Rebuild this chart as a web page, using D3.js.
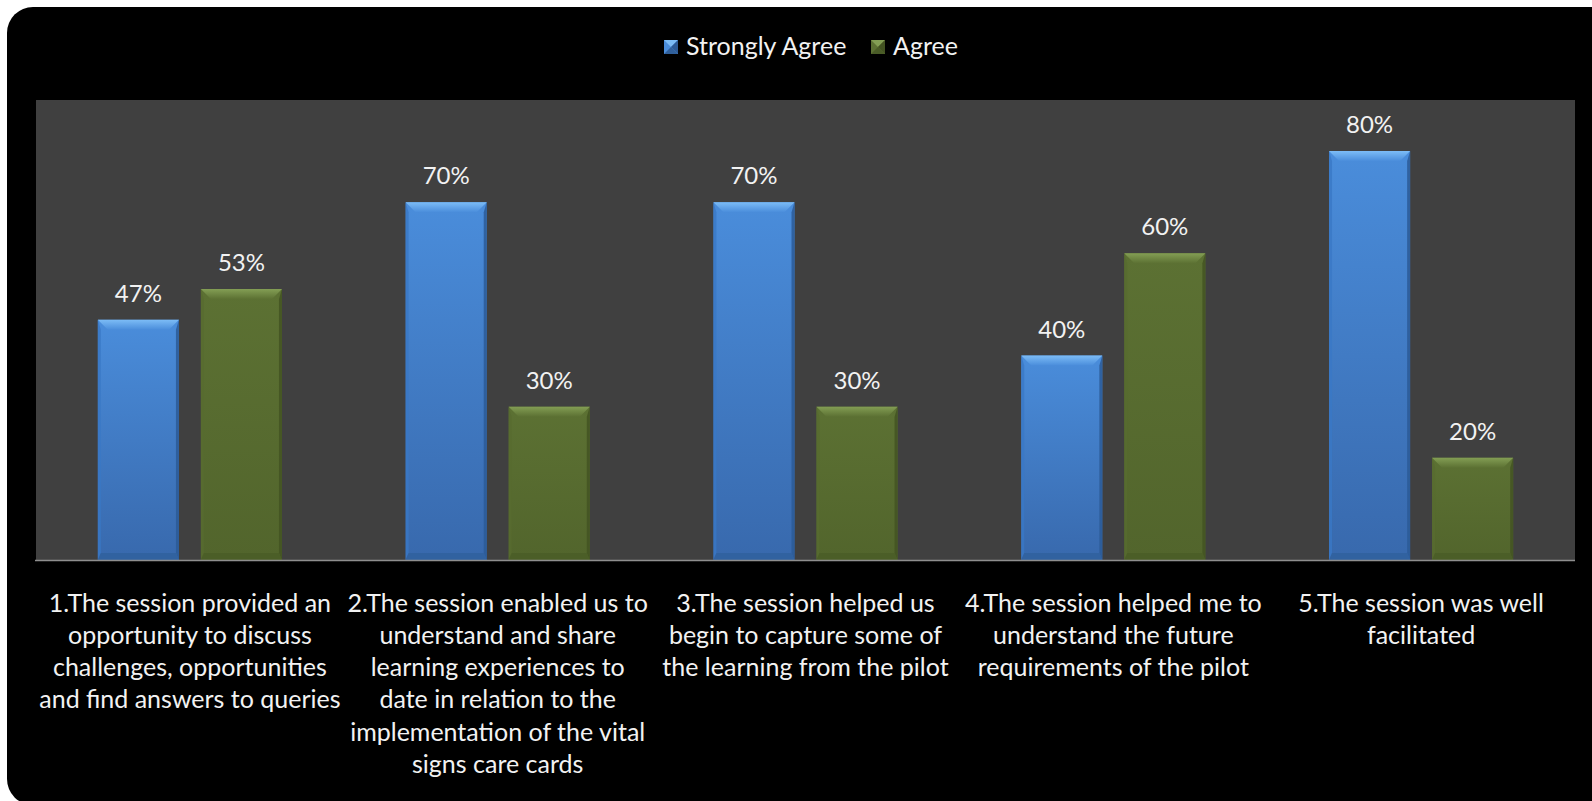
<!DOCTYPE html>
<html>
<head>
<meta charset="utf-8">
<script src="https://cdn.jsdelivr.net/npm/d3@7"></script>
<style>
  html, body { margin: 0; padding: 0; background: #ffffff; }
  svg { display: block; }
</style>
</head>
<body>
<script>
// ---- DATA ----
const categories = [
  "1.The session provided an opportunity to discuss challenges, opportunities and find answers to queries",
  "2.The session enabled us to understand and share learning experiences to date in relation to the implementation of the vital signs care cards",
  "3.The session helped us begin to capture some of the learning from the pilot",
  "4.The session helped me to understand the future requirements of the pilot",
  "5.The session was well facilitated"
];
const categoryLines = [
  ["1.The session provided an", "opportunity to discuss", "challenges, opportunities", "and find answers to queries"],
  ["2.The session enabled us to", "understand and share", "learning experiences to", "date in relation to the", "implementation of the vital", "signs care cards"],
  ["3.The session helped us", "begin to capture some of", "the learning from the pilot"],
  ["4.The session helped me to", "understand the future", "requirements of the pilot"],
  ["5.The session was well", "facilitated"]
];
const seriesNames = ["Strongly Agree", "Agree"];
const stronglyAgree = [0.47, 0.70, 0.70, 0.40, 0.80];
const agree = [0.53, 0.30, 0.30, 0.60, 0.20];
const yMax = 0.9;

// ---- LAYOUT ----
const W = 1592, H = 801;
const plot = { left: 36, right: 1575, top: 100, bottom: 560 };
const FONT = "Lato, 'Open Sans', sans-serif";

const svg = d3.select("body").append("svg").attr("width", W).attr("height", H);
const defs = svg.append("defs");

const palettes = {
  "Strongly Agree": { top: "#4a8ddb", bottom: "#3869ad", bevelTop: "#7cbcf6", left: "#3a78c6", right: "#2c5a96", bot: "#30609c" },
  "Agree": { top: "#5c7133", bottom: "#52652c", bevelTop: "#839e54", left: "#576b30", right: "#435322", bot: "#4a5c27" }
};
seriesNames.forEach((s, i) => {
  const p = palettes[s];
  const g = defs.append("linearGradient").attr("id", "body" + i).attr("x1", 0).attr("y1", 0).attr("x2", 0).attr("y2", 1);
  g.append("stop").attr("offset", "0%").attr("stop-color", p.top);
  g.append("stop").attr("offset", "100%").attr("stop-color", p.bottom);
  const gb = defs.append("linearGradient").attr("id", "bevel" + i).attr("x1", 0).attr("y1", 0).attr("x2", 0).attr("y2", 1);
  gb.append("stop").attr("offset", "0%").attr("stop-color", p.bevelTop);
  gb.append("stop").attr("offset", "100%").attr("stop-color", p.top);
});

// background frame
svg.append("rect").attr("x", 7).attr("y", 7).attr("width", 1610).attr("height", 798)
  .attr("rx", 26).attr("ry", 26).attr("fill", "#000000");

// plot area
svg.append("rect").attr("x", plot.left).attr("y", plot.top)
  .attr("width", plot.right - plot.left).attr("height", plot.bottom - plot.top)
  .attr("fill", "#404040");

const x0 = d3.scaleBand().domain(categories).range([plot.left, plot.right]).paddingInner(0).paddingOuter(0);
const x1 = d3.scaleBand().domain(seriesNames).range([0, x0.bandwidth()]).paddingInner(0.213).paddingOuter(0.6);
const y = d3.scaleLinear().domain([0, yMax]).range([plot.bottom, plot.top]);

const rows = categories.map((c, i) => ({ cat: c, values: [stronglyAgree[i], agree[i]] }));

const groups = svg.append("g").selectAll("g.cat").data(rows).join("g")
  .attr("class", "cat").attr("transform", d => `translate(${x0(d.cat)},0)`);

const bars = groups.selectAll("g.bar").data(d => d.values.map((v, si) => ({ v, si, s: seriesNames[si] })))
  .join("g").attr("class", "bar");

bars.each(function(d) {
  const g = d3.select(this);
  const p = palettes[d.s];
  const bx = x1(d.s), bw = x1.bandwidth();
  const by = y(d.v), bb = y(0);
  const bev = 10, side = 3, botB = 7;
  g.append("rect").attr("x", bx).attr("y", by).attr("width", bw).attr("height", bb - by).attr("fill", `url(#body${d.si})`);
  g.append("polygon").attr("points", [[bx, by], [bx + side, by + bev], [bx + side, bb - botB], [bx, bb]].join(" ")).attr("fill", p.left).attr("opacity", 0.8);
  g.append("polygon").attr("points", [[bx + bw, by], [bx + bw - side, by + bev], [bx + bw - side, bb - botB], [bx + bw, bb]].join(" ")).attr("fill", p.right).attr("opacity", 0.85);
  g.append("polygon").attr("points", [[bx, bb], [bx + side, bb - botB], [bx + bw - side, bb - botB], [bx + bw, bb]].join(" ")).attr("fill", p.bot).attr("opacity", 0.8);
  g.append("polygon").attr("points", [[bx, by], [bx + bw, by], [bx + bw - bev, by + bev], [bx + bev, by + bev]].join(" ")).attr("fill", `url(#bevel${d.si})`);
  g.append("text").attr("x", bx + bw / 2).attr("y", by - 18)
    .attr("text-anchor", "middle").attr("fill", "#f2f2f2")
    .attr("font-family", FONT).attr("font-size", 24)
    .text(d3.format(".0%")(d.v));
});

// baseline
svg.append("line").attr("x1", plot.left - 1).attr("x2", plot.right).attr("y1", y(0) + 0.5).attr("y2", y(0) + 0.5)
  .attr("stroke", "#8f8f8f").attr("stroke-width", 1.5);

// category labels
const lineH = 32.3;
svg.append("g").selectAll("text").data(categories).join("text")
  .attr("x", d => x0(d) + x0.bandwidth() / 2)
  .attr("y", 611.5)
  .attr("text-anchor", "middle").attr("fill", "#f2f2f2")
  .attr("font-family", FONT).attr("font-size", 25)
  .each(function(d, i) {
    d3.select(this).selectAll("tspan").data(categoryLines[i]).join("tspan")
      .attr("x", x0(d) + x0.bandwidth() / 2)
      .attr("dy", (t, j) => j === 0 ? 0 : lineH)
      .text(t => t);
  });

// legend
const legend = svg.append("g");
const legendItems = [
  { name: "Strongly Agree", x: 664, si: 0 },
  { name: "Agree", x: 871, si: 1 }
];
legendItems.forEach(it => {
  const p = palettes[it.name];
  const s = 14, lx = it.x, ly = 40;
  legend.append("rect").attr("x", lx).attr("y", ly).attr("width", s).attr("height", s).attr("fill", p.top);
  legend.append("polygon").attr("points", [[lx, ly], [lx + s, ly], [lx + s / 2, ly + s / 2]].join(" ")).attr("fill", p.bevelTop);
  legend.append("polygon").attr("points", [[lx + s, ly], [lx + s, ly + s], [lx + s / 2, ly + s / 2]].join(" ")).attr("fill", p.right);
  legend.append("polygon").attr("points", [[lx, ly + s], [lx + s, ly + s], [lx + s / 2, ly + s / 2]].join(" ")).attr("fill", p.bot);
  legend.append("text").attr("x", lx + 22).attr("y", ly + 15)
    .attr("fill", "#f2f2f2").attr("font-family", FONT).attr("font-size", 25)
    .text(it.name);
});
</script>
</body>
</html>
